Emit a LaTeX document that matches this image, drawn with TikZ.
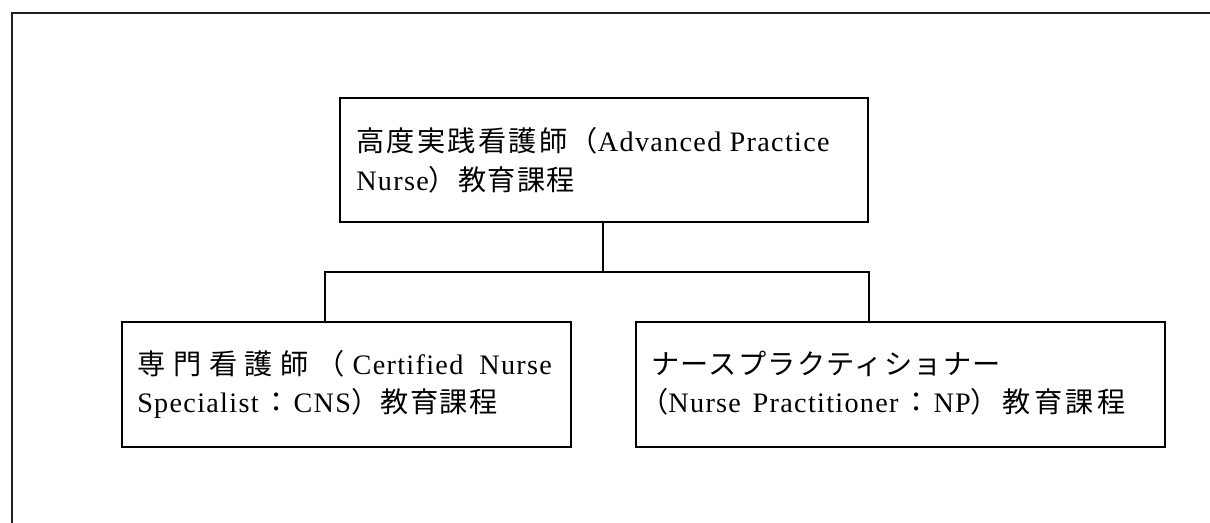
\documentclass[tikz,border=0pt]{standalone}
\usepackage{fontspec}
\setmainfont{Liberation Serif}[LetterSpace=4.6]
\newfontfamily\cjk{Noto Sans CJK JP}[LetterSpace=4.6]
\usetikzlibrary{fit}
\newcommand{\J}[1]{{\cjk #1}}
\begin{document}
\begin{tikzpicture}[x=0.75pt,y=-0.75pt,
  boxshape/.style={draw=black, line width=1.1pt, inner sep=0pt, rectangle},
  linetext/.style={anchor=base west, inner sep=0pt, font=\fontsize{21.15pt}{26pt}\selectfont, text=black},
  conn/.style={draw=black, line width=1.1pt},
  frame/.style={draw=black!88, line width=2pt}]
\useasboundingbox (0,0) rectangle (1210,523);
\clip (0,0) rectangle (1210,523);
% outer frame (only left and top edges visible)
\coordinate (frTR) at (1240,13);
\coordinate (frTL) at (12,13);
\coordinate (frBL) at (12,560);
\draw[frame] (frTR) -- (frTL) -- (frBL);
% boxes
\node[boxshape, fit={(340,98) (868,222)}] (top) {};
\node[boxshape, fit={(122,322) (571,447)}] (left) {};
\node[boxshape, fit={(636,322) (1165,447)}] (right) {};
% texts
\node[linetext] (t1) at (356,152) {\hbox to 355pt{\J{高}\hfil\J{度}\hfil\J{実}\hfil\J{践}\hfil\J{看}\hfil\J{護}\hfil\J{師}\hfil\J{（}Advanced Practice}};
\node[linetext] (t2) at (356,191) {Nurse\J{）教育課程}};
\node[linetext] (l1) at (137,375) {\hbox to 311pt{\J{専}\hfil\J{門}\hfil\J{看}\hfil\J{護}\hfil\J{師}\hfil\J{（}\hfil Certified\hfil\ Nurse}};
\node[linetext] (l2) at (137,413) {\hbox to 270pt{Specialist\hfil\J{：}\hfil CNS\J{）教育課程}}};
\node[linetext] (r1) at (651,375) {\J{ナースプラクティショナー}};
\node[linetext] (r2) at (640,413) {\hbox to 364pt{\J{（}Nurse\hfil\ Practitioner\hfil\J{：}\hfil NP\J{）}\hfil\J{教}\hfil\J{育}\hfil\J{課}\hfil\J{程}}};
% connectors
\coordinate (hl) at (325,272);
\coordinate (hr) at (869,272);
\coordinate (hm) at (603,272);
\draw[conn] (top.south -| hm) -- (hm);
\draw[conn] (left.north -| hl) -- (hl) -- (hr) -- (right.north -| hr);
\end{tikzpicture}
\end{document}
